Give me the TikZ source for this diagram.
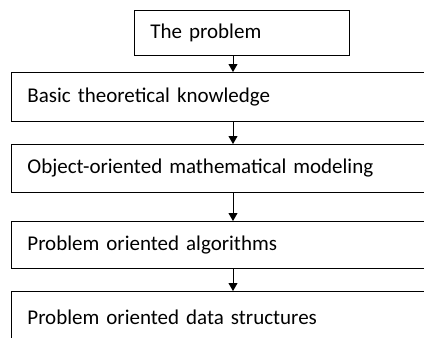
\documentclass[tikz,border=0pt]{standalone}
\usepackage{fontspec}
\setmainfont{Carlito}
\usetikzlibrary{arrows.meta}

\begin{document}
\begin{tikzpicture}[x=1pt,y=1pt,line width=0.8pt,
	arrows={-Triangle[width=9pt,length=8pt]},
	stage/.style={draw,-,anchor=north west,align=left,inner xsep=16pt,
		text width=398pt,minimum height=48pt,
		font=\fontsize{21}{24}\selectfont}]
	\useasboundingbox (0,0) rectangle (424,-338);
	\clip (0,0) rectangle (424,-338);
	\coordinate (axis) at (233,0);
	\node [stage,text width=183pt,minimum height=45pt] (P) at (134,-10) {The problem};
	\node [stage,minimum height=49pt] (K) at (11,-72) {Basic theoretical knowledge};
	\node [stage] (M) at (11,-144) {Object-oriented mathematical modeling};
	\node [stage,minimum height=47pt] (A) at (11,-221) {Problem oriented algorithms};
	\node [stage,minimum height=52pt] (D) at (11,-291) {Problem oriented data structures};
	\draw (P.south -| axis) to (K.north -| axis);
	\draw (K.south -| axis) to (M.north -| axis);
	\draw (M.south -| axis) to (A.north -| axis);
	\draw (A.south -| axis) to (D.north -| axis);
\end{tikzpicture}
\end{document}
